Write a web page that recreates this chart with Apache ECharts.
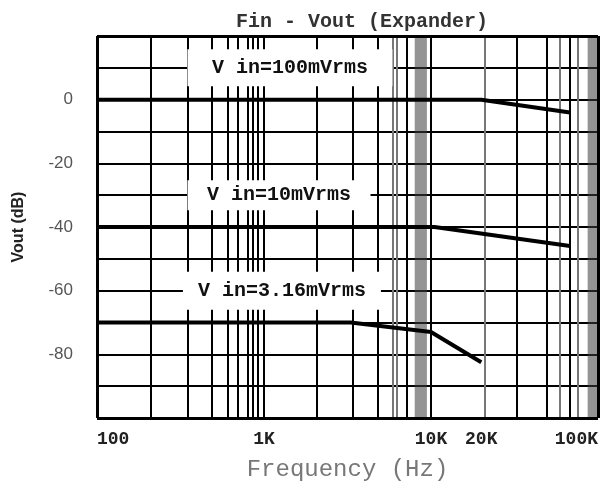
<!DOCTYPE html>
<html><head><meta charset="utf-8">
<script src="https://cdn.jsdelivr.net/npm/echarts@6/dist/echarts.min.js"></script>
<style>html,body{margin:0;padding:0;background:#fff}#c{width:603px;height:489px}</style>
</head><body><div id="c"></div>
<script>
// ---- data ----
const chartTitle = 'Fin - Vout (Expander)';
const xName = 'Frequency (Hz)';
const yName = 'Vout (dB)';
const xTickValues = [100, 1000, 10000, 20000, 100000];
const xTickText = ['100', '1K', '10K', '20K', '100K'];
const yTickValues = [0, -20, -40, -60, -80];
const curve100mV = [[100, 0], [20000, 0], [68000, -4]];
const curve10mV = [[100, -40], [10500, -40], [68000, -46]];
const curve316mV = [[100, -70], [3300, -70], [10000, -73], [20000, -82.5]];
const curveNames = ['V in=100mVrms', 'V in=10mVrms', 'V in=3.16mVrms'];
// vertical grid lines of the original graph paper (Hz)
const gridBlack = [100, 210, 351, 488, 609, 699, 802, 859, 921, 1000, 2080, 3410, 4820, 7180, 10000, 32700, 49500, 68000, 100000];
const gridGray = [5920, 6250, 21000, 59200, 75900];
const gridBands = [[7990, 9450], [86700, 100000]];

// ---- chart ----
const chart = echarts.init(document.getElementById('c'), null, {renderer: 'canvas'});
const mono = 'Liberation Mono';
function boxLabel(name, coord, size) {
  return {
    name: name, coord: coord, symbol: 'rect', symbolSize: size,
    itemStyle: {color: '#fff'},
    label: {show: true, position: 'inside', formatter: '{b}', color: '#111',
      fontFamily: mono, fontWeight: 'bold', fontSize: 20}
  };
}
function curve(data, name, labelItem) {
  return {
    type: 'line', name: name, data: data, z: 10, symbol: 'none', silent: true,
    lineStyle: {color: '#000', width: 4},
    markPoint: {silent: true, animation: false, data: [labelItem]}
  };
}
const option = {
  animation: false,
  backgroundColor: '#fff',
  title: {
    text: chartTitle, left: 357, top: 7, textAlign: 'center',
    textStyle: {fontFamily: mono, fontWeight: 'bold', fontSize: 20, color: '#333'}
  },
  grid: {left: 97, right: 5, top: 36, bottom: 71, containLabel: false},
  xAxis: {
    type: 'log', logBase: 10, min: 100, max: 100000,
    name: xName, nameLocation: 'middle', nameGap: 40,
    nameTextStyle: {fontFamily: mono, fontSize: 24, color: '#777'},
    axisLine: {show: false}, axisTick: {show: false}, splitLine: {show: false},
    axisLabel: {
      customValues: xTickValues,
      formatter: function (v) { const i = xTickValues.indexOf(Math.round(v)); return i >= 0 ? xTickText[i] : ''; },
      fontFamily: mono, fontWeight: 'bold', fontSize: 18, color: '#222', margin: 12,
      alignMinLabel: 'left', alignMaxLabel: 'right', showMinLabel: true, showMaxLabel: true
    }
  },
  yAxis: {
    type: 'value', min: -100, max: 20, interval: 10,
    name: yName, nameLocation: 'middle', nameGap: 70,
    nameTextStyle: {fontFamily: 'Liberation Sans', fontWeight: 'bold', fontSize: 16, color: '#222'},
    axisLine: {show: false}, axisTick: {show: false},
    splitLine: {show: true, lineStyle: {color: '#000', width: 2}},
    axisLabel: {
      formatter: function (v) { return yTickValues.indexOf(v) >= 0 ? String(v) : ''; },
      fontFamily: 'Liberation Sans', fontSize: 17, color: '#555', margin: 24, padding: [9, 0, 0, 0]
    }
  },
  series: [
    {
      type: 'line', data: [], z: 1, silent: true,
      markLine: {silent: true, animation: false, symbol: ['none', 'none'], label: {show: false},
        lineStyle: {color: '#000', width: 2, type: 'solid'},
        data: gridBlack.map(function (v) { return {xAxis: v}; })},
      markArea: {silent: true, animation: false, itemStyle: {color: 'rgba(60,60,60,0.55)'},
        data: gridBands.map(function (b) { return [{xAxis: b[0]}, {xAxis: b[1]}]; })}
    },
    {
      type: 'line', data: [], z: 1, silent: true,
      markLine: {silent: true, animation: false, symbol: ['none', 'none'], label: {show: false},
        lineStyle: {color: '#777', width: 2, type: 'solid'},
        data: gridGray.map(function (v) { return {xAxis: v}; })}
    },
    {
      type: 'line', data: [], z: 2, silent: true,
      markLine: {silent: true, animation: false, symbol: ['none', 'none'], label: {show: false},
        lineStyle: {color: '#000', width: 3, type: 'solid'},
        data: [{xAxis: 100}, {xAxis: 100000}, {yAxis: 20}, {yAxis: -100}]}
    },
    curve(curve100mV, curveNames[0], boxLabel(curveNames[0], [1430, 10], [205, 37])),
    curve(curve10mV, curveNames[1], boxLabel(curveNames[1], [1230, -30], [183, 30])),
    curve(curve316mV, curveNames[2], boxLabel(curveNames[2], [1280, -60], [198, 38]))
  ]
};
chart.setOption(option);
</script>
</body></html>
